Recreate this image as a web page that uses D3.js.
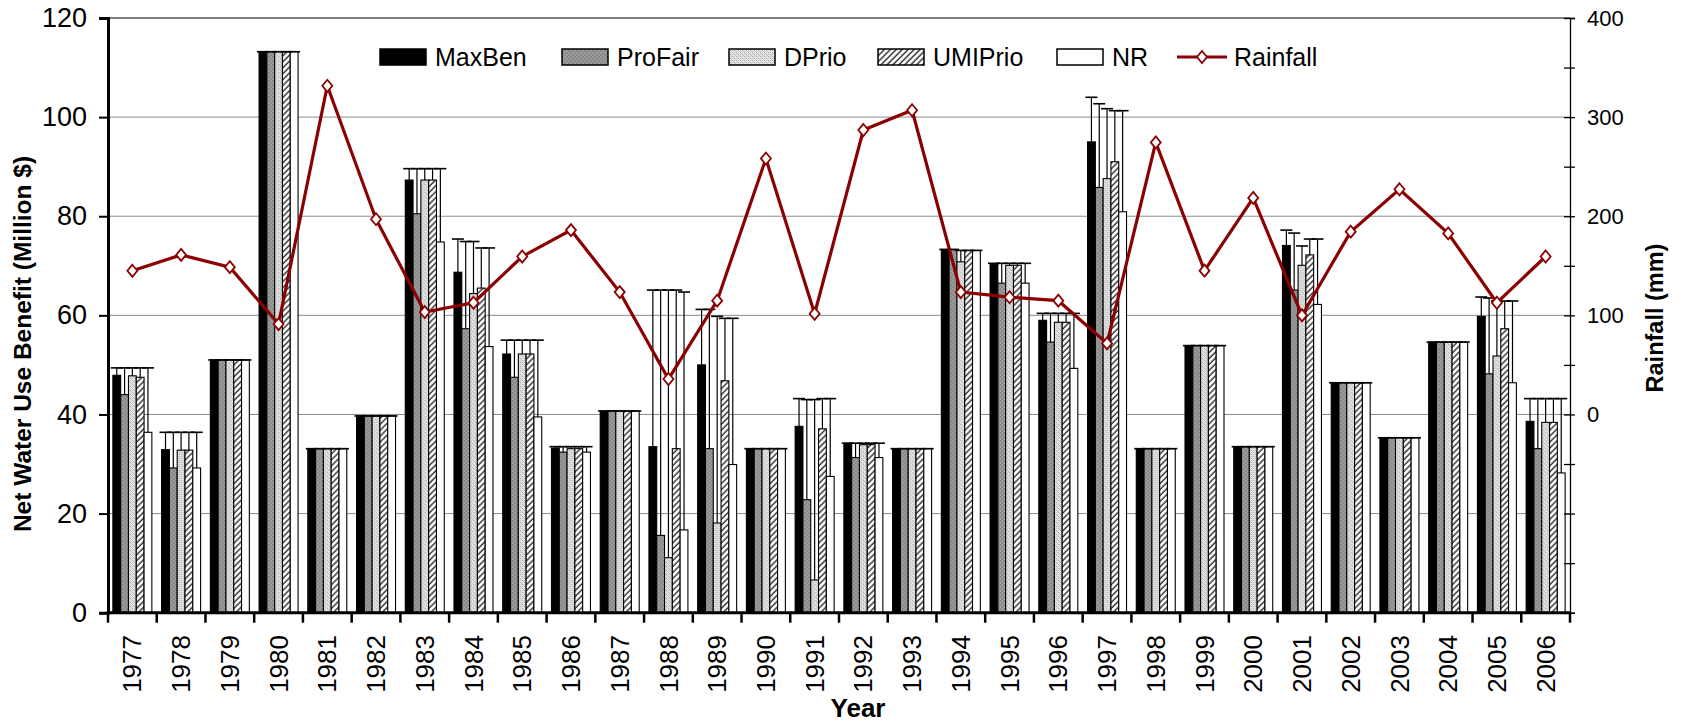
<!DOCTYPE html>
<html>
<head>
<meta charset="utf-8">
<script src="https://cdn.jsdelivr.net/npm/d3@7/dist/d3.min.js"></script>
<style>
  html, body { margin: 0; padding: 0; background: #fff; }
  svg { display: block; }
  text { font-family: "Liberation Sans", Arial, sans-serif; fill: #000; }
</style>
</head>
<body>
<svg id="chart" width="1683" height="728"></svg>
<script>
// Net water use benefit per allocation scenario (million $), 1977-2006
const years = ["1977","1978","1979","1980","1981","1982","1983","1984","1985","1986",
               "1987","1988","1989","1990","1991","1992","1993","1994","1995","1996",
               "1997","1998","1999","2000","2001","2002","2003","2004","2005","2006"];

const maxBen  = [47.9, 32.9, 51.0, 113.2, 33.1, 39.7, 87.3, 68.7, 52.2, 33.2, 40.7, 33.5, 50.0, 33.1, 37.6, 34.2, 33.1, 73.3, 70.3, 59.0, 95.0, 33.1, 53.9, 33.5, 74.1, 46.4, 35.3, 54.6, 59.8, 38.6];
const proFair = [44.0, 29.2, 51.0, 113.2, 33.1, 39.7, 80.5, 57.3, 47.5, 32.4, 40.7, 15.6, 33.1, 33.1, 22.8, 31.3, 33.1, 73.3, 66.5, 54.6, 85.8, 33.1, 53.9, 33.5, 65.1, 46.4, 35.3, 54.6, 48.2, 33.1];
const dPrio   = [47.8, 32.8, 51.0, 113.2, 33.1, 39.7, 87.3, 64.4, 52.2, 33.1, 40.7, 11.1, 18.1, 33.1, 6.6, 33.9, 33.1, 70.8, 70.1, 58.6, 87.6, 33.1, 53.9, 33.5, 70.1, 46.4, 35.3, 54.6, 51.8, 38.4];
const umiPrio = [47.5, 32.8, 51.0, 113.2, 33.1, 39.7, 87.3, 65.5, 52.2, 33.1, 40.7, 33.1, 46.8, 33.1, 37.1, 33.9, 33.1, 73.1, 70.1, 58.6, 91.0, 33.1, 53.9, 33.5, 72.2, 46.4, 35.3, 54.6, 57.3, 38.4];
const nr      = [36.4, 29.2, 51.0, 113.2, 33.1, 39.7, 74.8, 53.7, 39.5, 32.4, 40.7, 16.7, 29.9, 33.1, 27.5, 31.3, 33.1, 73.1, 66.5, 49.3, 80.9, 33.1, 53.9, 33.5, 62.2, 46.4, 35.3, 54.6, 46.4, 28.2];

// Upper ends of the error bars
const maxBenHi  = [49.4, 36.4, 51.0, 113.2, 33.1, 39.7, 89.6, 75.4, 55.0, 33.5, 40.7, 65.1, 61.2, 33.1, 43.2, 34.2, 33.1, 73.3, 70.5, 60.4, 104.0, 33.1, 53.9, 33.5, 77.2, 46.4, 35.3, 54.6, 63.7, 43.2];
const proFairHi = [49.4, 36.4, 51.0, 113.2, 33.1, 39.7, 89.6, 74.9, 55.0, 33.5, 40.7, 65.1, 61.2, 33.1, 43.0, 34.2, 33.1, 73.3, 70.5, 60.4, 102.7, 33.1, 53.9, 33.5, 76.6, 46.4, 35.3, 54.6, 63.5, 43.2];
const dPrioHi   = [49.4, 36.4, 51.0, 113.2, 33.1, 39.7, 89.6, 74.9, 55.0, 33.5, 40.7, 65.1, 59.8, 33.1, 43.0, 34.2, 33.1, 73.1, 70.5, 60.4, 101.7, 33.1, 53.9, 33.5, 74.0, 46.4, 35.3, 54.6, 62.9, 43.2];
const umiPrioHi = [49.4, 36.4, 51.0, 113.2, 33.1, 39.7, 89.6, 73.6, 55.0, 33.5, 40.7, 65.1, 59.4, 33.1, 43.2, 34.2, 33.1, 73.1, 70.5, 60.4, 101.3, 33.1, 53.9, 33.5, 75.4, 46.4, 35.3, 54.6, 62.9, 43.2];
const nrHi      = [49.4, 36.4, 51.0, 113.2, 33.1, 39.7, 89.6, 73.6, 55.0, 33.5, 40.7, 64.7, 59.4, 33.1, 43.2, 34.2, 33.1, 73.1, 70.5, 60.4, 101.3, 33.1, 53.9, 33.5, 75.4, 46.4, 35.3, 54.6, 62.9, 43.2];

// Annual rainfall (mm)
const rainfall = [145, 161, 148.6, 91.2, 331.6, 197, 103.3, 112.7, 159.4, 186, 123.5, 35.8, 114.8, 258.2, 101.6, 287, 306.9, 123.5, 118.3, 114.8, 71.7, 274.5, 145.1, 218.5, 99.9, 184.4, 227.2, 182.7, 112.7, 159.4];

const seriesNames = ["MaxBen", "ProFair", "DPrio", "UMIPrio", "NR"];
const leftTicks  = [0, 20, 40, 60, 80, 100, 120];
const rightTicks = [0, 100, 200, 300, 400];

const series = [
  { name: "MaxBen",  values: maxBen,  hi: maxBenHi,  fill: "#000" },
  { name: "ProFair", values: proFair, hi: proFairHi, fill: "url(#pDots)" },
  { name: "DPrio",   values: dPrio,   hi: dPrioHi,   fill: "url(#pCheck)" },
  { name: "UMIPrio", values: umiPrio, hi: umiPrioHi, fill: "url(#pHatch)" },
  { name: "NR",      values: nr,      hi: nrHi,      fill: "#fff" }
];

const svg = d3.select("#chart");
const M = { left: 108, right: 1570, top: 18, bottom: 612.7 };

// ---- fill patterns ----
const defs = svg.append("defs");
const dots = defs.append("pattern").attr("id", "pDots")
  .attr("patternUnits", "userSpaceOnUse").attr("width", 4).attr("height", 4);
dots.append("rect").attr("width", 4).attr("height", 4).attr("fill", "#888");
dots.append("rect").attr("x", 0.5).attr("y", 0.5).attr("width", 1).attr("height", 1).attr("fill", "#d8d8d8");
dots.append("rect").attr("x", 2.5).attr("y", 2.5).attr("width", 1).attr("height", 1).attr("fill", "#d8d8d8");

const chk = defs.append("pattern").attr("id", "pCheck")
  .attr("patternUnits", "userSpaceOnUse").attr("width", 4).attr("height", 4);
chk.append("rect").attr("width", 4).attr("height", 4).attr("fill", "#e6e6e6");
chk.append("rect").attr("x", 0).attr("y", 0).attr("width", 1).attr("height", 1).attr("fill", "#a8a8a8");
chk.append("rect").attr("x", 2).attr("y", 2).attr("width", 1).attr("height", 1).attr("fill", "#a8a8a8");
chk.append("rect").attr("x", 1).attr("y", 1).attr("width", 1).attr("height", 1).attr("fill", "#c4c4c4");
chk.append("rect").attr("x", 3).attr("y", 3).attr("width", 1).attr("height", 1).attr("fill", "#c4c4c4");
chk.append("rect").attr("x", 2).attr("y", 0).attr("width", 1).attr("height", 1).attr("fill", "#c8c8c8");
chk.append("rect").attr("x", 0).attr("y", 2).attr("width", 1).attr("height", 1).attr("fill", "#c8c8c8");

const hatch = defs.append("pattern").attr("id", "pHatch")
  .attr("patternUnits", "userSpaceOnUse").attr("width", 4.2).attr("height", 4.2)
  .attr("patternTransform", "rotate(45)");
hatch.append("rect").attr("width", 4.2).attr("height", 4.2).attr("fill", "#fff");
hatch.append("line").attr("x1", 1).attr("y1", 0).attr("x2", 1).attr("y2", 4.2)
  .attr("stroke", "#3a3a3a").attr("stroke-width", 1.5);

// ---- scales ----
const x0 = d3.scaleBand().domain(years).range([M.left, M.right]).paddingInner(0).paddingOuter(0);
const bw = x0.bandwidth();
const x1 = d3.scaleBand().domain(seriesNames).range([bw * 0.1, bw * 0.9]).padding(0);
const y  = d3.scaleLinear().domain([0, 120]).range([M.bottom, M.top]);
const yR = d3.scaleLinear().domain([-200, 400]).range([M.bottom, M.top]);

// ---- gridlines ----
svg.append("g").selectAll("line").data(leftTicks.filter(t => t > 0 && t < 120)).join("line")
  .attr("x1", M.left).attr("x2", M.right)
  .attr("y1", d => y(d)).attr("y2", d => y(d))
  .attr("stroke", "#8c8c8c").attr("stroke-width", 1);
svg.append("line").attr("x1", M.left).attr("x2", M.right)
  .attr("y1", y(120)).attr("y2", y(120)).attr("stroke", "#000").attr("stroke-width", 1.2);

// ---- bars ----
const groups = svg.append("g").selectAll("g").data(years).join("g")
  .attr("transform", d => `translate(${x0(d)},0)`);
groups.selectAll("rect").data((d, i) => series.map(s => ({ s, v: s.values[i] }))).join("rect")
  .attr("x", d => x1(d.s.name))
  .attr("width", x1.bandwidth())
  .attr("y", d => y(d.v))
  .attr("height", d => y(0) - y(d.v))
  .attr("fill", d => d.s.fill)
  .attr("stroke", "#000").attr("stroke-width", 1.1);

// ---- error bars ----
const eb = svg.append("g").attr("stroke", "#000");
years.forEach((yr, i) => {
  series.forEach(s => {
    const cx = x0(yr) + x1(s.name) + x1.bandwidth() / 2;
    eb.append("line").attr("x1", cx).attr("x2", cx)
      .attr("y1", y(s.values[i])).attr("y2", y(s.hi[i])).attr("stroke-width", 1.2);
    eb.append("line").attr("x1", cx - 6).attr("x2", cx + 6)
      .attr("y1", y(s.hi[i])).attr("y2", y(s.hi[i])).attr("stroke-width", 1.6);
  });
});

// ---- axes ----
const axL = svg.append("g").attr("transform", `translate(${M.left},0)`)
  .call(d3.axisLeft(y).tickValues(leftTicks).tickSize(9).tickPadding(12).tickFormat(d3.format("d")));
axL.select(".domain").attr("stroke-width", 3);
axL.selectAll(".tick line").attr("stroke-width", 2);
axL.selectAll("text").attr("font-size", 27).attr("font-family", "Liberation Sans, Arial, sans-serif");

const axR = svg.append("g").attr("transform", `translate(${M.right},0)`)
  .call(d3.axisRight(yR).tickValues(d3.range(-200, 401, 50)).tickSize(5).tickPadding(12)
    .tickFormat(d => rightTicks.includes(d) ? d : ""));
axR.select(".domain").attr("stroke-width", 1.3);
axR.selectAll(".tick line").attr("x1", -6).attr("stroke-width", 1.3);
axR.selectAll("text").attr("font-size", 22).attr("font-family", "Liberation Sans, Arial, sans-serif");

// x axis: boundary ticks between categories
const axB = svg.append("g");
axB.append("line").attr("x1", M.left - 1.5).attr("x2", M.right)
  .attr("y1", M.bottom).attr("y2", M.bottom).attr("stroke", "#000").attr("stroke-width", 3);
axB.selectAll("line.b").data(years.concat(["end"])).join("line").attr("class", "b")
  .attr("x1", (d, i) => i < years.length ? x0(d) : M.right)
  .attr("x2", (d, i) => i < years.length ? x0(d) : M.right)
  .attr("y1", M.bottom).attr("y2", M.bottom + 10)
  .attr("stroke", "#000").attr("stroke-width", 2.5);
axB.selectAll("text").data(years).join("text")
  .attr("transform", d => `translate(${x0(d) + bw / 2},635) rotate(-90)`)
  .attr("text-anchor", "end").attr("dy", "0.35em")
  .attr("font-size", 26).text(d => d);

// ---- rainfall line ----
const line = d3.line().x((d, i) => x0(years[i]) + bw / 2).y(d => yR(d));
svg.append("path").datum(rainfall).attr("d", line)
  .attr("fill", "none").attr("stroke", "#8b0000").attr("stroke-width", 3.2)
  .attr("stroke-linejoin", "miter");
const diamond = "M0,-6L5,0L0,6L-5,0Z";
svg.append("g").selectAll("path").data(rainfall).join("path")
  .attr("d", diamond)
  .attr("transform", (d, i) => `translate(${x0(years[i]) + bw / 2},${yR(d)})`)
  .attr("fill", "#fff").attr("stroke", "#8b0000").attr("stroke-width", 1.8);

// ---- axis titles ----
svg.append("text").attr("transform", "translate(22,344) rotate(-90)")
  .attr("text-anchor", "middle").attr("dy", "0.35em")
  .attr("font-size", 24.5).attr("font-weight", "bold")
  .text("Net Water Use Benefit (Million $)");
svg.append("text").attr("transform", "translate(1655,318) rotate(-90)")
  .attr("text-anchor", "middle").attr("dy", "0.35em")
  .attr("font-size", 23.5).attr("font-weight", "bold")
  .text("Rainfall (mm)");
svg.append("text").attr("x", 858).attr("y", 708)
  .attr("text-anchor", "middle").attr("dy", "0.35em")
  .attr("font-size", 26).attr("font-weight", "bold").text("Year");

// ---- legend ----
const legendItems = [
  { name: "MaxBen",  fill: "#000",         x: 380 },
  { name: "ProFair", fill: "url(#pDots)",  x: 562 },
  { name: "DPrio",   fill: "url(#pCheck)", x: 729 },
  { name: "UMIPrio", fill: "url(#pHatch)", x: 878 },
  { name: "NR",      fill: "#fff",         x: 1057 }
];
const lg = svg.append("g");
legendItems.forEach(it => {
  lg.append("rect").attr("x", it.x).attr("y", 49).attr("width", 46).attr("height", 16)
    .attr("fill", it.fill).attr("stroke", "#000").attr("stroke-width", 1.5);
  lg.append("text").attr("x", it.x + 55).attr("y", 57).attr("dy", "0.35em")
    .attr("font-size", 25).text(it.name);
});
lg.append("line").attr("x1", 1177).attr("x2", 1227).attr("y1", 57).attr("y2", 57)
  .attr("stroke", "#8b0000").attr("stroke-width", 3.2);
lg.append("path").attr("d", diamond).attr("transform", "translate(1202,57)")
  .attr("fill", "#fff").attr("stroke", "#8b0000").attr("stroke-width", 1.8);
lg.append("text").attr("x", 1234).attr("y", 57).attr("dy", "0.35em")
  .attr("font-size", 25).text("Rainfall");
</script>
</body>
</html>
